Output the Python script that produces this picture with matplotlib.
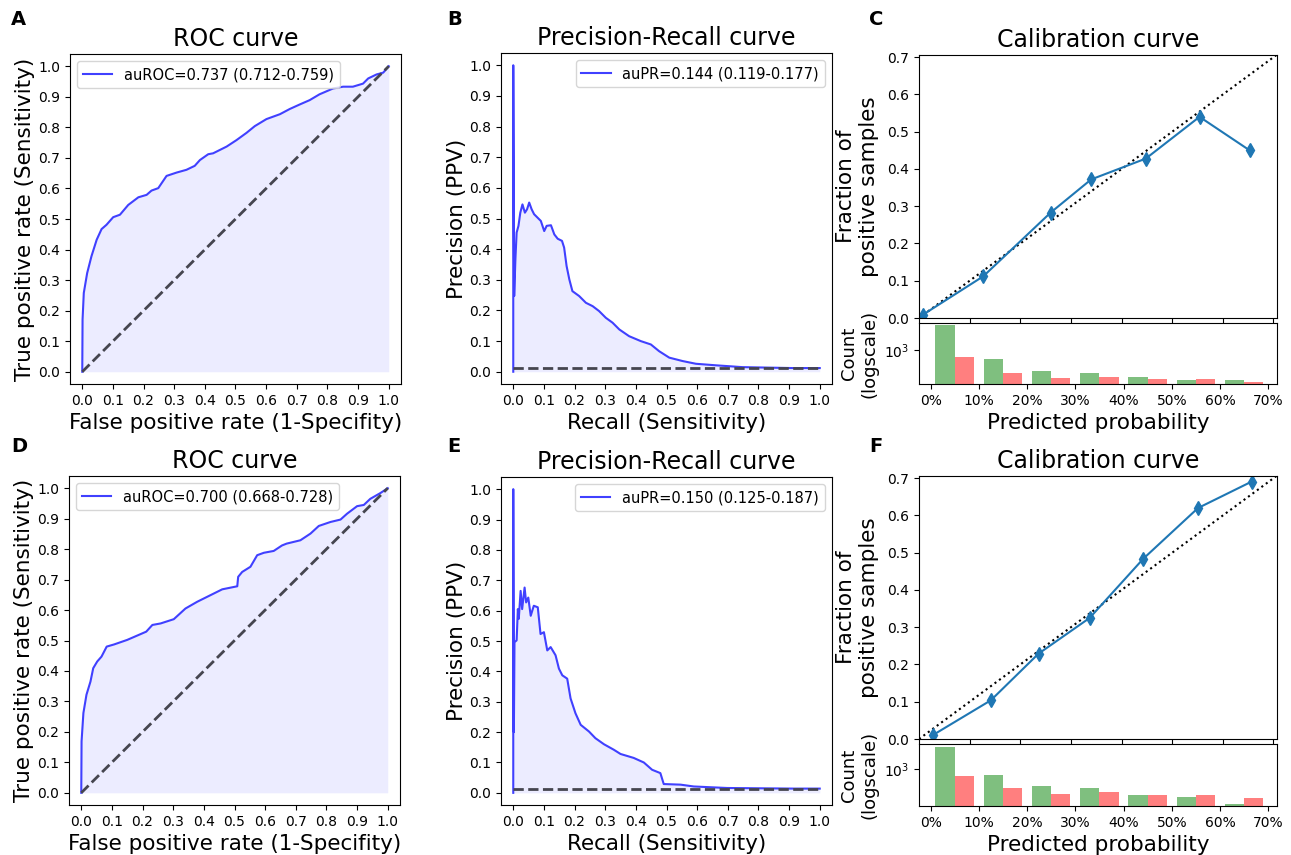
import numpy as np
import matplotlib
matplotlib.use("Agg")
import matplotlib.pyplot as plt
from matplotlib.ticker import PercentFormatter, NullLocator

# ---- data ----
# ROC, top row
roc1_fpr = [0.0, 0.001, 0.005, 0.016, 0.030, 0.047, 0.063, 0.079, 0.101, 0.123, 0.150, 0.183,
            0.210, 0.226, 0.248, 0.275, 0.308, 0.340, 0.367, 0.384, 0.411, 0.427, 0.471, 0.503,
            0.536, 0.563, 0.601, 0.645, 0.677, 0.710, 0.742, 0.774, 0.818, 0.851, 0.883, 0.916,
            0.933, 0.960, 0.982, 1.0]
roc1_tpr = [0.0, 0.171, 0.258, 0.323, 0.378, 0.432, 0.467, 0.481, 0.506, 0.514, 0.546, 0.571,
            0.579, 0.593, 0.601, 0.641, 0.652, 0.661, 0.674, 0.693, 0.712, 0.715, 0.737, 0.758,
            0.782, 0.804, 0.827, 0.843, 0.860, 0.875, 0.889, 0.908, 0.927, 0.933, 0.933, 0.943,
            0.960, 0.973, 0.979, 1.0]
# ROC, bottom row
roc2_fpr = [0.0, 0.001, 0.007, 0.017, 0.030, 0.039, 0.052, 0.066, 0.083, 0.107, 0.150, 0.212,
            0.232, 0.259, 0.302, 0.340, 0.378, 0.416, 0.460, 0.509, 0.512, 0.525, 0.552, 0.574,
            0.596, 0.628, 0.655, 0.670, 0.715, 0.748, 0.775, 0.813, 0.846, 0.867, 0.900, 0.922,
            0.943, 0.976, 1.0]
roc2_tpr = [0.0, 0.169, 0.262, 0.322, 0.365, 0.409, 0.431, 0.447, 0.480, 0.487, 0.502, 0.529,
            0.551, 0.556, 0.570, 0.605, 0.627, 0.646, 0.668, 0.678, 0.709, 0.725, 0.742, 0.780,
            0.788, 0.794, 0.812, 0.818, 0.829, 0.851, 0.876, 0.889, 0.897, 0.916, 0.941, 0.945,
            0.965, 0.984, 1.0]

# Precision-recall, top row
pr1_rec = [0.0, 0.0, 0.003, 0.007, 0.011, 0.017, 0.023, 0.030, 0.038, 0.045, 0.052, 0.060, 0.068,
           0.079, 0.090, 0.101, 0.109, 0.123, 0.134, 0.145, 0.159, 0.166, 0.174, 0.183, 0.193,
           0.215, 0.237, 0.259, 0.280, 0.302, 0.324, 0.346, 0.378, 0.416, 0.449, 0.476, 0.509,
           0.552, 0.596, 0.661, 0.748, 0.911, 1.0]
pr1_prec = [0.0, 1.0, 0.247, 0.367, 0.454, 0.476, 0.519, 0.546, 0.519, 0.530, 0.552, 0.530, 0.514,
            0.503, 0.492, 0.459, 0.476, 0.478, 0.448, 0.434, 0.427, 0.405, 0.345, 0.301, 0.263,
            0.247, 0.225, 0.214, 0.198, 0.176, 0.160, 0.138, 0.116, 0.100, 0.089, 0.067, 0.046,
            0.035, 0.026, 0.021, 0.015, 0.012, 0.012]
pr1_base = 0.011
# Precision-recall, bottom row
pr2_rec = [0.0, 0.0, 0.002, 0.004, 0.011, 0.015, 0.018, 0.024, 0.029, 0.037, 0.042, 0.049, 0.057,
           0.067, 0.080, 0.089, 0.100, 0.111, 0.122, 0.138, 0.149, 0.160, 0.176, 0.187, 0.203,
           0.220, 0.247, 0.268, 0.296, 0.328, 0.350, 0.393, 0.426, 0.453, 0.480, 0.491, 0.546,
           0.589, 0.698, 0.916, 1.0]
pr2_prec = [0.0, 1.0, 0.200, 0.496, 0.502, 0.605, 0.573, 0.665, 0.605, 0.676, 0.627, 0.643, 0.583,
            0.616, 0.611, 0.523, 0.529, 0.469, 0.480, 0.453, 0.409, 0.387, 0.376, 0.311, 0.262,
            0.224, 0.202, 0.180, 0.160, 0.142, 0.128, 0.115, 0.100, 0.076, 0.065, 0.029, 0.027,
            0.021, 0.016, 0.014, 0.014]
pr2_base = 0.014

# Calibration points
cal1_pred = [0.008, 0.127, 0.260, 0.340, 0.448, 0.554, 0.653]
cal1_frac = [0.009, 0.112, 0.283, 0.372, 0.428, 0.540, 0.450]
cal2_pred = [0.028, 0.142, 0.236, 0.337, 0.443, 0.551, 0.657]
cal2_frac = [0.011, 0.104, 0.229, 0.325, 0.484, 0.620, 0.691]

# Histogram counts per 10% bin (green / red)
bin_edges = [0.0, 0.1, 0.2, 0.3, 0.4, 0.5, 0.6, 0.7]
cnt1_green = [5437, 543, 237, 206, 164, 128, 128]
cnt1_red = [610, 215, 153, 164, 143, 137, 114]
cnt2_green = [4050, 700, 348, 313, 205, 177, 116]
cnt2_red = [670, 300, 214, 238, 201, 205, 163]

roc_labels = ["auROC=0.737 (0.712-0.759)", "auROC=0.700 (0.668-0.728)"]
pr_labels = ["auPR=0.144 (0.119-0.177)", "auPR=0.150 (0.125-0.187)"]

W, H = 1291, 855
fig = plt.figure(figsize=(W / 100, H / 100), dpi=100)


def px_axes(left, top, right, bottom):
    return fig.add_axes([left / W, 1 - bottom / H, (right - left) / W, (bottom - top) / H])


TICK = 10
LAB = 15.5
TITLE = 17
CURVE = (0.25, 0.25, 1.0)
DASH = "#45454f"


def roc_panel(ax, fpr, tpr, label):
    ax.plot(fpr, tpr, color=CURVE, lw=1.5, label=label)
    ax.fill_between(fpr, tpr, color="blue", alpha=0.075, lw=0)
    ax.plot([0, 1], [0, 1], ls="--", color=DASH, lw=2)
    ax.set_xlim(-0.04, 1.04)
    ax.set_ylim(-0.04, 1.04)
    ax.set_xticks(np.arange(0, 1.01, 0.1))
    ax.set_yticks(np.arange(0, 1.01, 0.1))
    ax.tick_params(labelsize=TICK)
    ax.set_xlabel("False positive rate (1-Specifity)", fontsize=LAB)
    ax.set_ylabel("True positive rate (Sensitivity)", fontsize=LAB, labelpad=2)
    ax.set_title("ROC curve", fontsize=TITLE)
    ax.legend(loc="upper left", fontsize=10.5)


def pr_panel(ax, rec, prec, base, label):
    ax.plot(rec, prec, color=CURVE, lw=1.5, label=label)
    ax.fill_between(rec, prec, color="blue", alpha=0.075, lw=0)
    ax.plot([0, 1], [base, base], ls="--", color=DASH, lw=2)
    ax.set_xlim(-0.04, 1.04)
    ax.set_ylim(-0.04, 1.04)
    ax.set_xticks(np.arange(0, 1.01, 0.1))
    ax.set_yticks(np.arange(0, 1.01, 0.1))
    ax.tick_params(labelsize=TICK)
    ax.set_xlabel("Recall (Sensitivity)", fontsize=LAB)
    ax.set_ylabel("Precision (PPV)", fontsize=LAB, labelpad=2)
    ax.set_title("Precision-Recall curve", fontsize=TITLE)
    ax.legend(loc="upper right", fontsize=10.5)


def cal_panel(ax, axh, pred, frac, green, red, ytop):
    ax.plot([0, 1], [0, 1], ls=":", color="k", lw=1.5)
    ax.plot(pred, frac, color="#1f77b4", marker="d", ms=7, lw=1.5)
    ax.set_xlim(0, 0.707)
    ax.set_ylim(0, 0.706)
    ax.set_xticks(np.arange(0, 0.71, 0.1))
    ax.set_xticklabels([])
    ax.set_yticks(np.arange(0, 0.71, 0.1))
    ax.tick_params(labelsize=TICK)
    ax.set_ylabel("Fraction of\npositive samples", fontsize=LAB, labelpad=6)
    ax.set_title("Calibration curve", fontsize=TITLE)

    mids = np.array(bin_edges[:-1]) + 0.05
    axh.hist([mids, mids], bins=bin_edges, weights=[green, red],
             color=["green", "red"], alpha=0.5, rwidth=0.8)
    axh.set_yscale("log")
    axh.set_ylim(100, ytop)
    axh.set_yticks([1000])
    axh.yaxis.set_minor_locator(NullLocator())
    axh.set_xlim(-0.024, 0.718)
    axh.set_xticks(np.arange(0, 0.71, 0.1))
    axh.xaxis.set_major_formatter(PercentFormatter(1.0, decimals=0))
    axh.tick_params(labelsize=TICK)
    axh.set_ylabel("Count\n(logscale)", fontsize=13, labelpad=4)
    axh.set_xlabel("Predicted probability", fontsize=LAB)


# top row
roc_panel(px_axes(70, 54, 401, 384), roc1_fpr, roc1_tpr, roc_labels[0])
pr_panel(px_axes(501, 53, 832, 384), pr1_rec, pr1_prec, pr1_base, pr_labels[0])
cal_panel(px_axes(919, 55, 1277, 318), px_axes(919, 323, 1277, 384),
          cal1_pred, cal1_frac, cnt1_green, cnt1_red, 6200)

# bottom row
roc_panel(px_axes(69, 476, 400, 805), roc2_fpr, roc2_tpr, roc_labels[1])
pr_panel(px_axes(501, 477, 832, 805), pr2_rec, pr2_prec, pr2_base, pr_labels[1])
cal_panel(px_axes(919, 476, 1277, 739), px_axes(919, 744, 1277, 806),
          cal2_pred, cal2_frac, cnt2_green, cnt2_red, 4900)

for letter, x, y in [("A", 11, 10), ("B", 447, 10), ("C", 869, 10),
                     ("D", 11, 437), ("E", 447, 437), ("F", 869, 437)]:
    fig.text(x / W, 1 - y / H, letter, fontsize=14, fontweight="bold", va="top", ha="left")

fig.savefig("out.png", dpi=100)
